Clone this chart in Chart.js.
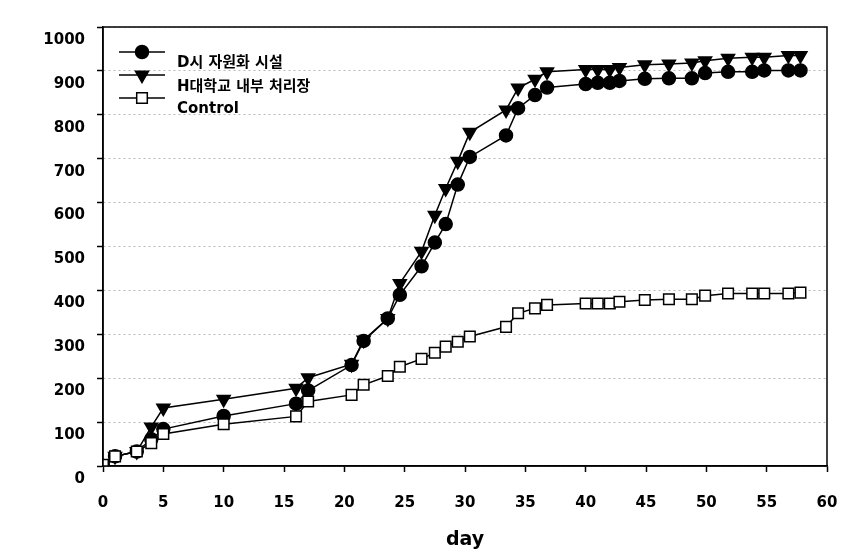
<!DOCTYPE html>
<html>
<head>
<meta charset="utf-8">
<script src="https://cdn.jsdelivr.net/npm/chart.js@4/dist/chart.umd.min.js"></script>
<style>
    body { margin: 0; background: #fff; }
</style>
</head>
<body>
<canvas id="growthChart" width="853" height="559"></canvas>
<script>
const days = [0, 1, 2.8, 4, 5, 10, 16, 17, 20.6, 21.6, 23.6, 24.6, 26.4, 27.5, 28.4, 29.4, 30.4,
    33.4, 34.4, 35.8, 36.8, 40, 41, 42, 42.8, 44.9, 46.9, 48.8, 49.9, 51.8, 53.8, 54.8, 56.8, 57.8];
const dCity = [0, 22, 33, 61, 84, 114, 142, 172, 230, 285, 336, 390, 455, 509, 551, 641, 704,
    753, 815, 845, 862, 870, 873, 873, 877, 882, 883, 883, 895, 898, 898, 901, 901, 901];
const hUniv = [0, 22, 33, 89, 132, 152, 177, 201, 232, 287, 336, 416, 489, 571, 632, 694, 760,
    811, 861, 881, 898, 903, 903, 903, 908, 914, 916, 918, 923, 929, 931, 931, 935, 935];
const control = [3, 22, 33, 52, 73, 95, 113, 147, 162, 185, 205, 226, 244, 258, 272, 283, 295,
    317, 348, 359, 367, 370, 370, 370, 374, 378, 380, 380, 388, 393, 393, 393, 393, 395];
const seriesNames = ['D시 자원화 시설', 'H대학교 내부 처리장', 'Control'];
const xTitle = 'day';

function toPoints(values) {
    const pts = [];
    for (let i = 0; i < days.length; i++) {
        pts.push({ x: days[i], y: values[i] });
    }
    return pts;
}

const tickFont = { family: '"DejaVu Sans", Arial, sans-serif', size: 15, weight: 'bold' };

// frame around the plot + legend inside the top-left corner
const frameLegend = {
    id: 'frameLegend',
    afterDraw(chart) {
        const ctx = chart.ctx;
        const a = chart.chartArea;
        ctx.save();
        ctx.strokeStyle = '#000';
        ctx.lineWidth = 1.5;
        ctx.setLineDash([]);
        ctx.strokeRect(a.left, a.top, a.right - a.left, a.bottom - a.top);

        const rowY = [52, 75, 98];
        const textY = [63, 87, 109];
        chart.data.datasets.forEach(function (ds, i) {
            ctx.beginPath();
            ctx.moveTo(119, rowY[i]);
            ctx.lineTo(165, rowY[i]);
            ctx.strokeStyle = '#000';
            ctx.lineWidth = 1.5;
            ctx.stroke();
            ctx.fillStyle = ds.pointBackgroundColor;
            ctx.strokeStyle = '#000';
            Chart.helpers.drawPoint(ctx, {
                pointStyle: ds.pointStyle,
                radius: ds.pointRadius,
                rotation: ds.pointRotation || 0,
                borderWidth: 1.5
            }, 142, rowY[i]);
            ctx.fillStyle = '#000';
            ctx.font = 'bold 15px "DejaVu Sans", "Noto Sans CJK KR", sans-serif';
            ctx.textBaseline = 'middle';
            ctx.textAlign = 'left';
            ctx.fillText(seriesNames[i], 177, textY[i]);
        });
        ctx.restore();
    }
};

const ctx = document.getElementById('growthChart').getContext('2d');

new Chart(ctx, {
    type: 'line',
    data: {
        datasets: [{
            label: seriesNames[0],
            data: toPoints(dCity),
            borderColor: '#000',
            borderWidth: 1.5,
            pointStyle: 'circle',
            pointRadius: 6.5,
            pointBackgroundColor: '#000',
            pointBorderColor: '#000',
            tension: 0,
            order: 1
        }, {
            label: seriesNames[1],
            data: toPoints(hUniv),
            borderColor: '#000',
            borderWidth: 1.5,
            pointStyle: 'triangle',
            pointRotation: 180,
            pointRadius: 7.5,
            pointBackgroundColor: '#000',
            pointBorderColor: '#000',
            tension: 0,
            order: 2
        }, {
            label: seriesNames[2],
            data: toPoints(control),
            borderColor: '#000',
            borderWidth: 1.5,
            pointStyle: 'rect',
            pointRadius: 7.5,
            pointBackgroundColor: '#fff',
            pointBorderColor: '#000',
            pointBorderWidth: 1.5,
            tension: 0,
            order: 0
        }]
    },
    options: {
        responsive: false,
        animation: false,
        devicePixelRatio: 1,
        layout: { padding: { top: 27, right: 26, left: 0, bottom: 0 } },
        plugins: {
            legend: { display: false },
            tooltip: { enabled: false }
        },
        scales: {
            x: {
                type: 'linear',
                min: 0,
                max: 60,
                ticks: { stepSize: 5, padding: 22, color: '#000', font: tickFont, maxRotation: 0 },
                grid: { drawOnChartArea: false, tickLength: 6, tickColor: '#000', tickWidth: 1.5 },
                border: { color: '#000', width: 1.5 },
                title: {
                    display: true,
                    text: xTitle,
                    color: '#000',
                    font: { family: '"DejaVu Sans", Arial, sans-serif', size: 19, weight: 'bold' },
                    padding: { top: 0, bottom: 8 }
                },
                afterFit: function (scale) {
                    scale.height = 93;
                    scale.paddingLeft = 0;
                    scale.paddingRight = 0;
                }
            },
            y: {
                min: 0,
                max: 1000,
                ticks: {
                    stepSize: 100, padding: 12, labelOffset: 13, color: '#000', font: tickFont,
                    callback: function (value) { return String(value); }
                },
                grid: { color: '#b8b8b8', tickLength: 6, tickColor: '#000', tickWidth: 1.5, tickBorderDash: [] },
                border: { color: '#000', width: 1.5, dash: [2, 3] },
                afterFit: function (scale) { scale.width = 103; }
            }
        }
    },
    plugins: [frameLegend]
});
</script>
</body>
</html>
